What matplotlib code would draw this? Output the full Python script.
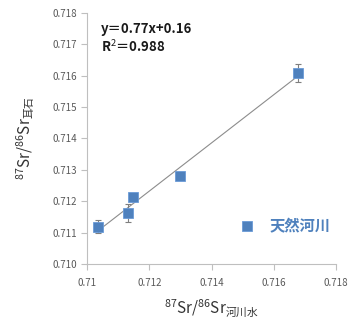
import numpy as np
import matplotlib
matplotlib.use("Agg")
import matplotlib.pyplot as plt

plt.rcParams['font.family'] = ['Noto Sans CJK JP', 'DejaVu Sans']
plt.rcParams['mathtext.fontset'] = 'custom'
plt.rcParams['mathtext.rm'] = 'Noto Sans CJK JP'
plt.rcParams['mathtext.it'] = 'Noto Sans CJK JP'
plt.rcParams['mathtext.bf'] = 'Noto Sans CJK JP:bold'

river = [0.71034, 0.71131, 0.71149, 0.71299, 0.71677]
otolith = [0.71119, 0.71163, 0.71214, 0.71280, 0.71609]
err = [0.00020, 0.00028, 0.00005, 0.00005, 0.00028]
xticks = [0.710, 0.712, 0.714, 0.716, 0.718]
xticklabels = ['0.71', '0.712', '0.714', '0.716', '0.718']
yticks = [0.710, 0.711, 0.712, 0.713, 0.714, 0.715, 0.716, 0.717, 0.718]
series_name = '天然河川'
eq_text = 'y＝0.77x+0.16'
r2_text = 'R$^2$＝0.988'

blue = '#4F81BD'
fig = plt.figure(figsize=(3.5, 3.22), dpi=100)
ax = fig.add_axes([0.249, 0.18, 0.711, 0.78])

coef = np.polyfit(river, otolith, 1)
xl = np.array([min(river), max(river)])
ax.plot(xl, np.polyval(coef, xl), color='#8c8c8c', lw=0.8, zorder=2)
ax.errorbar(river, otolith, yerr=err, fmt='none', ecolor='#7f7f7f', elinewidth=0.8,
            capsize=2.5, capthick=0.8, zorder=3)
ax.plot(river, otolith, 's', color=blue, markersize=6.5, mec='#6a9bd8', mew=0.6, zorder=4,
        label=series_name)

ax.set_xlim(0.710, 0.718)
ax.set_ylim(0.710, 0.718)
ax.set_xticks(xticks)
ax.set_xticklabels(xticklabels)
ax.set_yticks(yticks)
ax.set_yticklabels([f'{v:.3f}' for v in yticks])
for s in ['top', 'right']:
    ax.spines[s].set_visible(False)
for s in ['left', 'bottom']:
    ax.spines[s].set_color('#bfbfbf')
    ax.spines[s].set_linewidth(0.8)
ax.tick_params(axis='both', colors='#bfbfbf', labelcolor='#595959', labelsize=7, length=4, width=0.8)
ax.tick_params(axis='x', pad=6)

ax.text(0.055, 0.92, eq_text, transform=ax.transAxes, fontsize=9.5, fontweight='bold', color='#1a1a1a')
ax.text(0.055, 0.845, r2_text, transform=ax.transAxes, fontsize=9.5, fontweight='bold', color='#1a1a1a')

leg = ax.legend(loc='lower right', bbox_to_anchor=(1.035, 0.065), frameon=False, handlelength=0.8,
                handletextpad=1.1, prop={'size': 11, 'weight': 'bold'})
for t in leg.get_texts():
    t.set_color(blue)

ax.set_xlabel(r'$\mathrm{^{87}Sr/^{86}Sr_{河川水}}$', fontsize=11, color='#333333', labelpad=7)
ax.set_ylabel(r'$\mathrm{^{87}Sr/^{86}Sr_{耳石}}$', fontsize=11, color='#333333', labelpad=11)

fig.savefig('out.png', dpi=100)
